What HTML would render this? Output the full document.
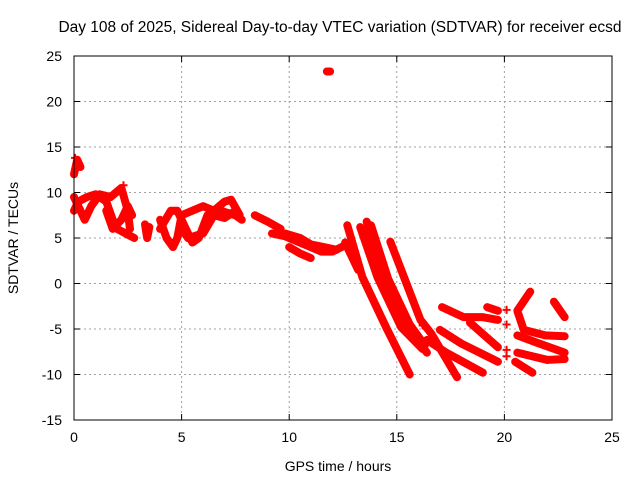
<!DOCTYPE html>
<html><head><meta charset="utf-8"><style>
body{margin:0;background:#fff}
svg{display:block;font-family:"Liberation Sans",sans-serif}
</style></head><body>
<svg id="chart" width="640" height="480">
<text x="340" y="32" font-size="15.5" text-anchor="middle">Day 108 of 2025, Sidereal Day-to-day VTEC variation (SDTVAR) for receiver ecsd</text>
<text x="338" y="471" font-size="14" text-anchor="middle">GPS time / hours</text>
<text transform="translate(18,238) rotate(-90)" font-size="14" text-anchor="middle">SDTVAR / TECUs</text>
<g id="grid"></g>
<g id="marks"></g>
<rect x="74" y="56" width="538" height="364" fill="none" stroke="#000"/>
<g id="ticks"></g>
</svg>
<script>
const xTicks=[0,5,10,15,20,25];
const yTicks=[-15,-10,-5,0,5,10,15,20,25];
const trackA=[[0,9.5],[0.3,8],[0.5,7],[0.8,8.5],[1.2,9.8],[1.7,9.5],[2.2,10.5],[2.5,8],[2.6,6]];
const trackB=[[0,8],[0.2,9],[0.6,9.5],[1,9.8],[1.5,9],[1.8,7],[2,6],[2.4,5.5],[2.8,5]];
const trackC=[[1.5,8],[1.8,6],[2.2,7],[2.5,8.5],[2.7,7.5]];
const trackSpike=[[0,12],[0.15,13.6],[0.3,12.8]];
const trackOutlier=[[11.75,23.3],[11.9,23.3]];
const trackD=[[3.3,6.5],[3.4,5],[3.5,6.2]];
const trackE=[[4,7],[4.3,5],[4.6,4],[4.8,5],[5,7.5],[5.5,8],[6,8.5],[6.5,8],[7,9],[7.3,9.2],[7.7,7.5]];
const trackF=[[4,6],[4.5,8],[4.8,8],[5.2,6],[5.5,4.5],[5.8,5],[6.2,7.5],[6.8,8],[7.5,7.5],[7.8,7]];
const trackG=[[5,6],[5.3,5],[6,5.5],[6.5,7.5],[7,7.2],[7.5,8]];
const trackH=[[8.4,7.5],[9,6.8],[9.6,6]];
const trackI=[[9.2,5.5],[9.8,5.2],[10.5,4.5],[11,4],[11.5,3.5],[12,3.5],[12.6,4.2]];
const trackJ=[[9.8,5.5],[10.5,5],[11,4.3],[11.6,4],[12.2,3.7]];
const trackK=[[10,4],[10.5,3.3],[11,2.8]];
const trackL=[[12.6,4.5],[12.9,3],[13.2,1.5]];
const trackM=[[12.7,6.4],[13.4,0.7],[14.5,-4.8],[15.6,-10]];
const trackN=[[13.6,6.8],[14.4,0.7],[15.5,-4.8],[16.4,-7.6]];
const trackN2=[[13.3,6.2],[14.1,0.7],[15.2,-4.8],[16.2,-7.2]];
const trackN3=[[13.8,6.4],[14.6,0.5],[15.6,-4.5],[16.3,-6.8]];
const trackO=[[14.7,4.6],[16.1,-4],[16.6,-5.5],[17.8,-10.3]];
const trackP=[[16.4,-6.2],[17.3,-7.6],[19,-9.8]];
const trackQ=[[17,-5.1],[18,-6.6],[19.7,-8.6]];
const trackR=[[17.1,-2.6],[18.1,-3.7],[19,-3.7],[19.7,-4]];
const trackS=[[18.4,-4.3],[19.7,-7]];
const trackT=[[19.2,-2.6],[19.7,-3]];
const trackU=[[21.2,-0.9],[20.6,-3],[20.9,-5.1],[21.9,-5.7],[22.8,-5.8]];
const trackV=[[20.6,-5.7],[21.5,-6.5],[22.8,-7.6]];
const trackW=[[20.6,-7.6],[22,-8.4],[22.8,-8.3]];
const trackX=[[20.5,-8.6],[21.3,-9.8]];
const trackY=[[22.3,-2],[22.8,-3.7]];
const crossPts=[[20.1,-2.9],[20.1,-4.5],[20.1,-7.3],[20.1,-8],[16.2,-4.6],[2.3,10.8],[0.05,13.8]];
const tracks=[trackA,trackB,trackC,trackSpike,trackOutlier,trackD,trackE,trackF,trackG,trackH,trackI,trackJ,trackK,trackL,trackM,trackN,trackN2,trackN3,trackO,trackP,trackQ,trackR,trackS,trackT,trackU,trackV,trackW,trackX,trackY];

const X0=74,X1=612,Y0=420,Y1=56;
const xs=v=>X0+(v-0)/25*(X1-X0);
const ys=v=>Y0-(v+15)/40*(Y0-Y1);
const NS='http://www.w3.org/2000/svg';
const grid=document.getElementById('grid'),ticks=document.getElementById('ticks'),marks=document.getElementById('marks');
function mk(tag,attrs,parent){const e=document.createElementNS(NS,tag);for(const k in attrs)e.setAttribute(k,attrs[k]);parent.appendChild(e);return e;}
xTicks.forEach(t=>{
  const x=xs(t);
  if(t>0&&t<25){const g=mk('line',{x1:x,x2:x,y1:Y1,y2:Y0,stroke:'#a0a0a0','stroke-dasharray':'2,3'},grid);
  
  }
  mk('line',{x1:x,x2:x,y1:Y0,y2:Y0-6,stroke:'#000'},ticks);
  mk('line',{x1:x,x2:x,y1:Y1,y2:Y1+6,stroke:'#000'},ticks);
  const l=mk('text',{x:x,y:442,'font-size':14,'text-anchor':'middle'},ticks);l.textContent=t;
  
  
});
yTicks.forEach(t=>{
  const y=ys(t);
  if(t>-15&&t<25){const g=mk('line',{x1:X0,x2:X1,y1:y,y2:y,stroke:'#a0a0a0','stroke-dasharray':'2,3'},grid);
  
  }
  mk('line',{x1:X0,x2:X0+6,y1:y,y2:y,stroke:'#000'},ticks);
  mk('line',{x1:X1,x2:X1-6,y1:y,y2:y,stroke:'#000'},ticks);
  const l=mk('text',{x:62,y:y+5,'font-size':14,'text-anchor':'end'},ticks);l.textContent=t;
  
  
});
tracks.forEach(tr=>{
  const p=mk('polyline',{points:tr.map(d=>xs(d[0])+','+ys(d[1])).join(' '),fill:'none',stroke:'#ff0000','stroke-width':8,'stroke-linejoin':'round','stroke-linecap':'round'},marks);
  
  
});
crossPts.forEach(d=>{
  const x=xs(d[0]),y=ys(d[1]);
  const c=mk('path',{d:`M${x-4},${y}H${x+4}M${x},${y-4}V${y+4}`,stroke:'#ff0000','stroke-width':2},marks);
  
  
});
</script>
</body></html>
